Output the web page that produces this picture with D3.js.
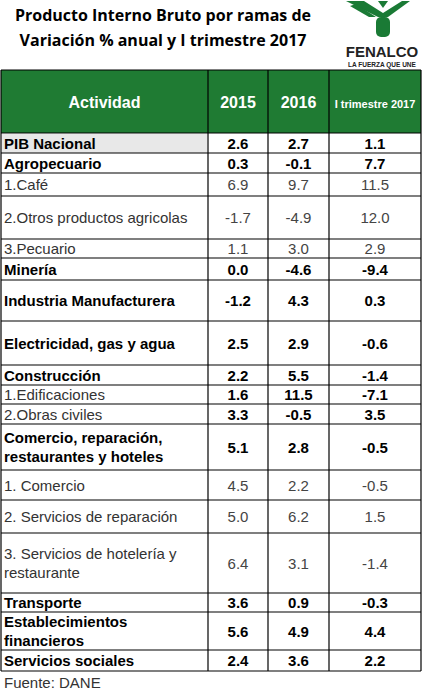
<!DOCTYPE html>
<html>
<head>
<meta charset="utf-8">
<script src="https://cdn.jsdelivr.net/npm/d3@7"></script>
<style>
body { margin: 0; background: #fff; }
text { font-family: "Liberation Sans", Arial, sans-serif; }
</style>
</head>
<body>
<script>
//table data
var actividades = ["PIB Nacional", "Agropecuario", "1.Café", "2.Otros productos agricolas", "3.Pecuario",
	"Minería", "Industria Manufacturera", "Electricidad, gas y agua", "Construcción", "1.Edificaciones",
	"2.Obras civiles", "Comercio, reparación,|restaurantes y hoteles", "1. Comercio", "2. Servicios de reparación",
	"3. Servicios de hotelería y|restaurante", "Transporte", "Establecimientos|financieros", "Servicios sociales"];
var v2015 = [2.6, 0.3, 6.9, -1.7, 1.1, 0.0, -1.2, 2.5, 2.2, 1.6, 3.3, 5.1, 4.5, 5.0, 6.4, 3.6, 5.6, 2.4];
var v2016 = [2.7, -0.1, 9.7, -4.9, 3.0, -4.6, 4.3, 2.9, 5.5, 11.5, -0.5, 2.8, 2.2, 6.2, 3.1, 0.9, 4.9, 3.6];
var vT1 = [1.1, 7.7, 11.5, 12.0, 2.9, -9.4, 0.3, -0.6, -1.4, -7.1, 3.5, -0.5, -0.5, 1.5, -1.4, -0.3, 4.4, 2.2];
var labelBold = [1,1,0,0,0,1,1,1,1,0,0,1,0,0,0,1,1,1];
var valueBold = [1,1,0,0,0,1,1,1,1,1,1,1,0,0,0,1,1,1];
var headers = ["Actividad", "2015", "2016", "I trimestre 2017"];

//layout
var rowHeights = [20,20,23,43,19,22,41,44,20,19,20,46,30,33,60,19,38,21];
var colEdges = [1, 208, 268, 329, 421];
var tableTop = 133, headTop = 70;

var width = 422, height = 693;
var svg = d3.select("body").append("svg")
	.attr("width", width).attr("height", height);

//title
svg.append("g").selectAll("text")
	.data(["Producto Interno Bruto por ramas de", "Variación % anual y I trimestre 2017"])
	.enter().append("text")
	.attr("x", 163).attr("y", function(d, i){ return 21 + i * 25; })
	.attr("text-anchor", "middle")
	.style("font-family", "'Open Sans', sans-serif")
	.style("font-weight", "bold").style("font-size", "16px")
	.text(function(d){ return d; });

//logo
var logo = svg.append("g").attr("fill", "#1a7a35");
logo.append("path").attr("d", "M346,1 L364,1 L383,13 L402,1 L410,1 L388,17 L378,17 Z");
logo.append("path").attr("d", "M356,4 L376,17 L369,17 L350,6 Z");
logo.append("path").attr("d", "M383,8 L388,1 L378,1 Z");
logo.append("rect").attr("x", 376).attr("y", 17).attr("width", 14).attr("height", 20).attr("rx", 5);
logo.append("text").attr("x", 382).attr("y", 57).attr("text-anchor", "middle")
	.style("font-weight", "bold").style("font-size", "15px").attr("fill", "#222").text("FENALCO");
logo.append("text").attr("x", 382).attr("y", 67).attr("text-anchor", "middle")
	.style("font-weight", "bold").style("font-size", "6.5px").attr("fill", "#222").text("LA FUERZA QUE UNE");

//header
var header = svg.append("g");
header.append("rect").attr("x", colEdges[0]).attr("y", headTop)
	.attr("width", colEdges[4] - colEdges[0]).attr("height", tableTop - headTop).attr("fill", "#1f7b33");
header.selectAll("text").data(headers).enter().append("text")
	.attr("x", function(d, i){ return (colEdges[i] + colEdges[i + 1]) / 2; })
	.attr("y", (headTop + tableTop) / 2 + 6)
	.attr("text-anchor", "middle").attr("fill", "#fff").style("font-weight", "bold")
	.style("font-size", function(d, i){ return i == 3 ? "11px" : "16px"; })
	.text(function(d){ return d; });

//row positions
var ys = [tableTop];
rowHeights.forEach(function(h, i){ ys.push(ys[i] + h); });

svg.append("rect").attr("x", colEdges[0] + 1).attr("y", ys[0] + 1)
	.attr("width", colEdges[1] - colEdges[0] - 2).attr("height", rowHeights[0] - 1).attr("fill", "#e8e8e8");

var fmt = function(v){ return d3.format(".1f")(v).replace("\u2212", "-"); };
var rows = svg.selectAll(".row").data(actividades).enter().append("g")
	.attr("transform", function(d, i){ return "translate(0," + ys[i] + ")"; });

rows.each(function(d, i){
	var g = d3.select(this), h = rowHeights[i];
	var lines = d.split("|");
	lines.forEach(function(l, k){
		g.append("text").attr("x", 4)
			.attr("y", h / 2 + 5.5 + (k - (lines.length - 1) / 2) * 19)
			.style("font-size", labelBold[i] ? "15px" : "15px")
			.style("font-weight", labelBold[i] ? "bold" : "normal")
			.attr("fill", labelBold[i] ? "#000" : "#333")
			.text(l);
	});
	[v2015[i], v2016[i], vT1[i]].forEach(function(v, c){
		g.append("text").attr("x", (colEdges[c + 1] + colEdges[c + 2]) / 2).attr("y", h / 2 + 5.5)
			.attr("text-anchor", "middle")
			.style("font-size", "15px")
			.style("font-weight", valueBold[i] ? "bold" : "normal")
			.attr("fill", valueBold[i] ? "#000" : "#444")
			.text(fmt(v));
	});
});

//grid lines
var grid = svg.append("g").attr("stroke", "#000").attr("stroke-width", 1.2);
ys.forEach(function(y){
	grid.append("line").attr("x1", colEdges[0]).attr("x2", colEdges[4]).attr("y1", y).attr("y2", y);
});
grid.append("line").attr("x1", colEdges[0]).attr("x2", colEdges[4]).attr("y1", headTop).attr("y2", headTop);
colEdges.forEach(function(x){
	grid.append("line").attr("x1", x).attr("x2", x).attr("y1", headTop).attr("y2", ys[ys.length - 1]);
});

svg.append("text").attr("x", 4).attr("y", ys[ys.length - 1] + 17)
	.style("font-size", "15px").attr("fill", "#333").text("Fuente: DANE");
</script>
</body>
</html>
